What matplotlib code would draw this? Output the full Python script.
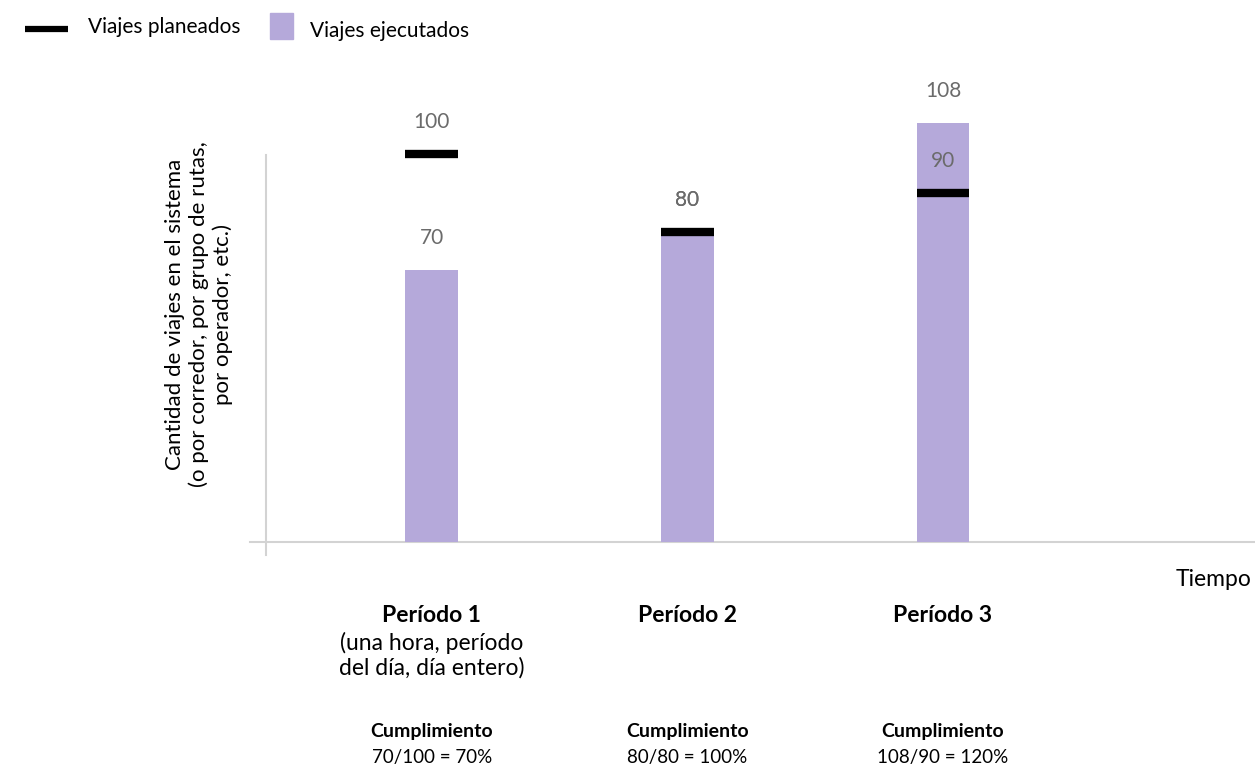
import numpy as np
import matplotlib.pyplot as plt

# datos del ejemplo de cumplimiento
periodos = ["Período 1", "Período 2", "Período 3"]
subtitulos = ["(una hora, período\ndel día, día entero)", "", ""]
planeados = [100, 80, 90]
ejecutados = [70, 80, 108]

plt.rcParams['font.family'] = ['Lato', 'DejaVu Sans']

color_barra = "#b5a9da"
color_eje = "#d3d3d3"
color_valor = "#6b6b6b"

fig = plt.figure(figsize=(12.55, 7.68), dpi=100)
W, H = 1255, 768
ax = fig.add_axes([250 / W, (H - 542) / H, (W - 250) / W, 542 / H])

x = np.arange(len(periodos))
ancho = 0.207
ax.bar(x, ejecutados, width=ancho, color=color_barra, zorder=2)
ax.hlines(planeados, x - ancho / 2, x + ancho / 2, color="black", linewidth=6, zorder=3)

# etiquetas de valor
for xi, p, e in zip(x, planeados, ejecutados):
    for v in (p, e):
        ax.annotate(str(v), (xi, v), xytext=(0, 32), textcoords="offset pixels",
                    ha="center", va="center", fontsize=15, color=color_valor)

ax.set_xlim(-0.712, 3.221)
ax.set_ylim(0, 139.7)
for s in ax.spines.values():
    s.set_visible(False)
ax.set_xticks([])
ax.set_yticks([])

# ejes dibujados a mano
ax.plot([-0.712, 3.221], [0, 0], color=color_eje, lw=1.5, clip_on=False, zorder=1)
ax.plot([-0.649, -0.649], [-3.4, 99.7], color=color_eje, lw=1.5, clip_on=False, zorder=1)

# textos en coordenadas de figura
def ftext(px, py, s, **kw):
    fig.text(px / W, 1 - py / H, s, **kw)

ftext(199, 314, "Cantidad de viajes en el sistema\n(o por corredor, por grupo de rutas,\npor operador, etc.)",
      rotation=90, ha="center", va="center", fontsize=16, linespacing=1.2)
ftext(1252, 580, "Tiempo", ha="right", va="center", fontsize=16.5)

for i, (nombre, sub, p, e) in enumerate(zip(periodos, subtitulos, planeados, ejecutados)):
    xf = fig.transFigure.inverted().transform(ax.transData.transform((x[i], 0)))[0]
    fig.text(xf, 1 - 616 / H, nombre, ha="center", va="center", fontsize=16.5, fontweight="bold")
    if sub:
        fig.text(xf, 1 - 655 / H, sub, ha="center", va="center", fontsize=16.5, linespacing=1.15)
    fig.text(xf, 1 - 732 / H, "Cumplimiento", ha="center", va="center", fontsize=14, fontweight="bold")
    fig.text(xf, 1 - 757 / H, f"{e}/{p} = {round(100 * e / p)}%", ha="center", va="center", fontsize=13.5)

# leyenda
leg = fig.add_axes([0, 0, 1, 1], facecolor="none")
leg.set_xlim(0, W)
leg.set_ylim(H, 0)
leg.axis("off")
leg.plot([25, 68], [29, 29], color="black", lw=4.5, solid_capstyle="butt")
leg.add_patch(plt.Rectangle((270, 13), 23, 26, color=color_barra))
leg.text(88, 27, "Viajes planeados", ha="left", va="center", fontsize=15)
leg.text(310, 31, "Viajes ejecutados", ha="left", va="center", fontsize=15)

fig.savefig("out.png", dpi=100)
